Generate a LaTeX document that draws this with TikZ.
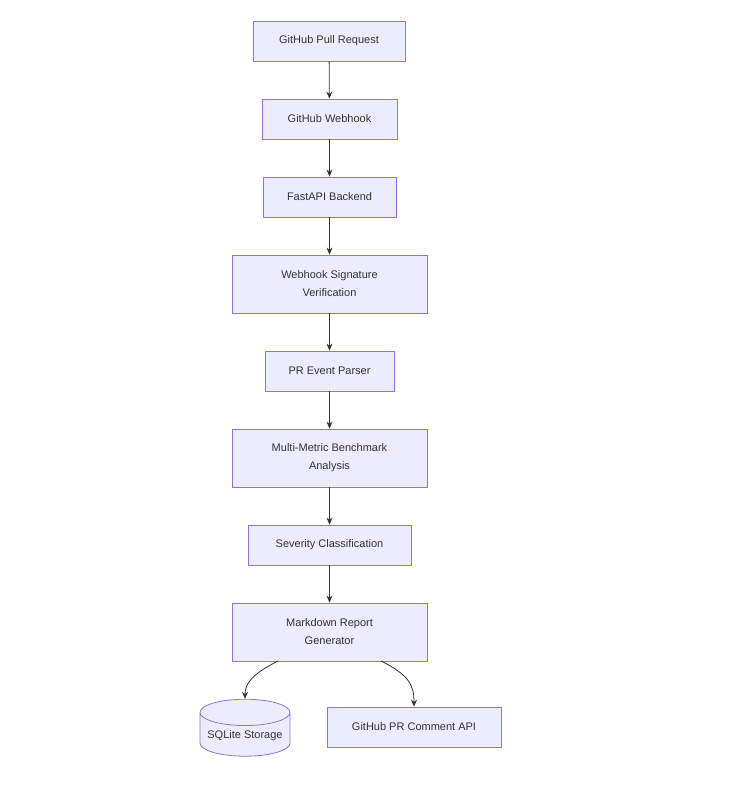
\documentclass[tikz,border=0pt]{standalone}
\usepackage{fontspec}
\setmainfont{Liberation Sans}
\usetikzlibrary{shapes.geometric,arrows.meta}
\definecolor{bfill}{HTML}{ECECFF}
\definecolor{bline}{HTML}{9370DB}
\definecolor{txt}{HTML}{333333}
\begin{document}
\begin{tikzpicture}[x=1pt,y=-1pt,
  box/.style={draw=bline,fill=bfill,line width=0.8pt,text=txt,font=\fontsize{11}{18}\selectfont,align=center,inner sep=0pt},
  arr/.style={draw=txt,line width=0.8pt,-{Stealth[length=7pt,width=6pt]}}]
\useasboundingbox (0,0) rectangle (745,789);
\node[box,minimum width=152,minimum height=40] (a) at (329,41) {GitHub Pull Request};
\node[box,minimum width=135,minimum height=40] (b) at (329.5,119) {GitHub Webhook};
\node[box,minimum width=133,minimum height=40] (c) at (329.5,197) {FastAPI Backend};
\node[box,minimum width=195,minimum height=58] (d) at (329.5,284) {Webhook Signature\\Verification};
\node[box,minimum width=129,minimum height=40] (e) at (329.5,371) {PR Event Parser};
\node[box,minimum width=195,minimum height=58] (f) at (329.5,458) {Multi-Metric Benchmark\\Analysis};
\node[box,minimum width=163,minimum height=40] (g) at (329.5,545) {Severity Classification};
\node[box,minimum width=195,minimum height=58] (h) at (329.5,632) {Markdown Report\\Generator};
\node[box,cylinder,shape border rotate=90,aspect=0.35,minimum width=90,minimum height=57,text depth=-8pt] (i) at (245,734.5) {SQLite Storage};
\node[box,minimum width=174,minimum height=40] (j) at (414,727) {GitHub PR Comment API};
\draw[arr] (a) -- (b);
\draw[arr] (b) -- (c);
\draw[arr] (c) -- (d);
\draw[arr] (d) -- (e);
\draw[arr] (e) -- (f);
\draw[arr] (f) -- (g);
\draw[arr] (g) -- (h);
\coordinate (hl) at (278,661);
\coordinate (hr) at (381,661);
\draw[arr] (hl) .. controls (250,675) and (245,685) .. (i.north);
\draw[arr] (hr) .. controls (409,675) and (414,685) .. (j.north);
\end{tikzpicture}
\end{document}
